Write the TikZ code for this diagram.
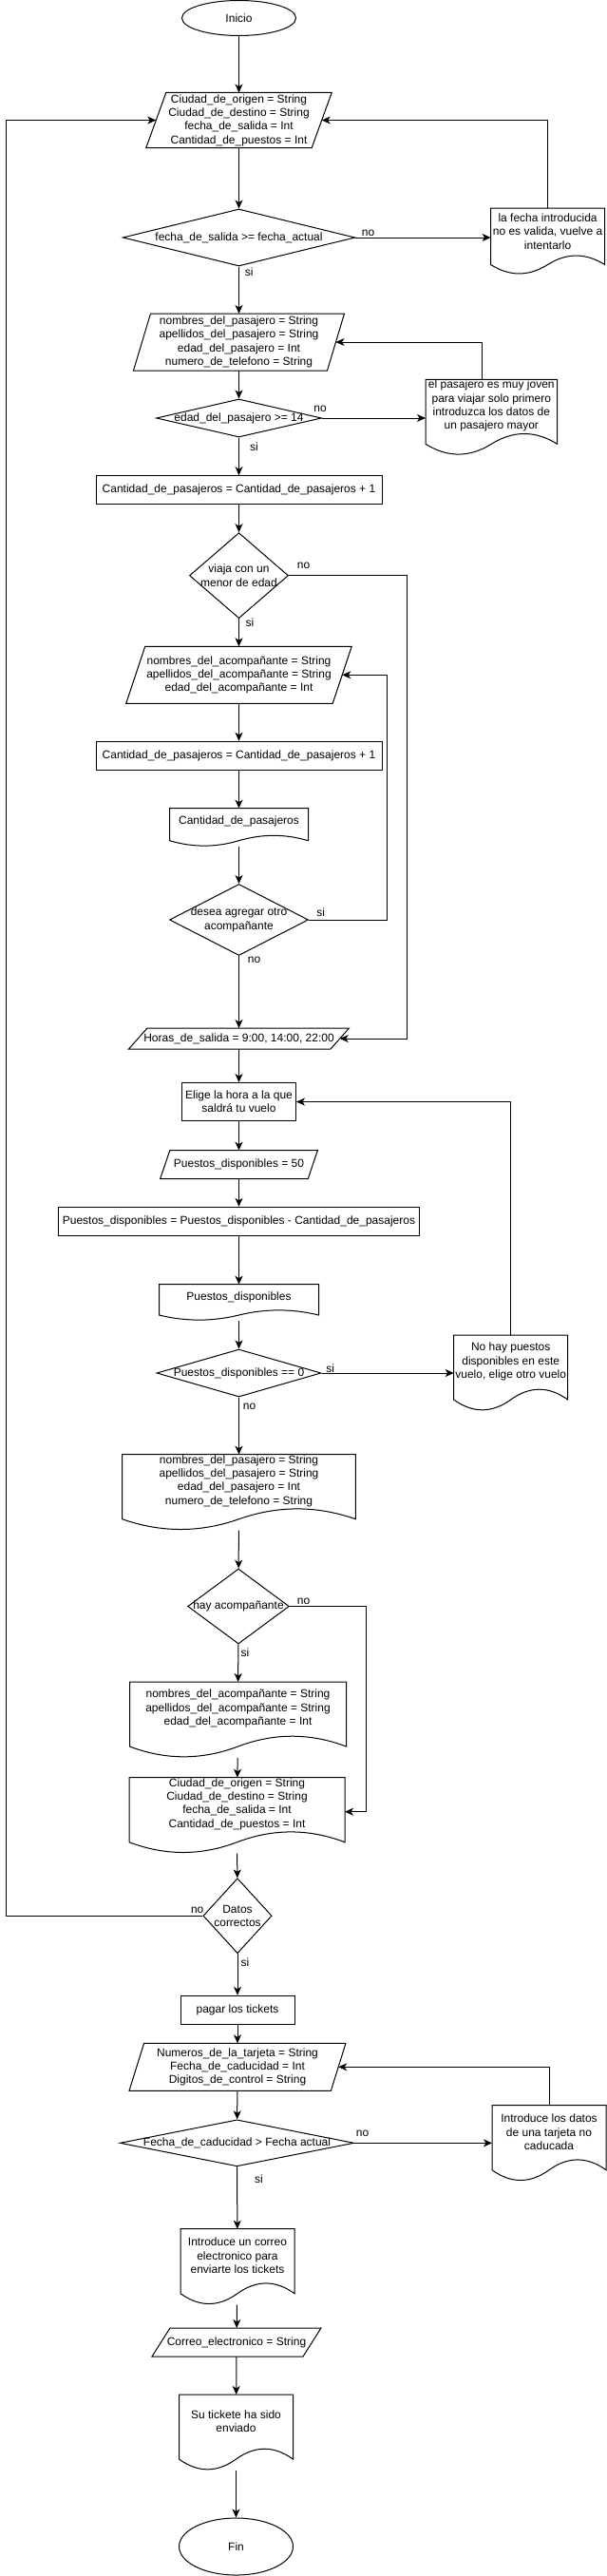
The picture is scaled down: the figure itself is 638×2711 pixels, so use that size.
\documentclass[tikz,border=0pt]{standalone}
\usepackage{fontspec}
\setmainfont{Liberation Sans}
\usetikzlibrary{shapes.geometric,arrows.meta,calc}

\tikzset{
  terminal/.style={ellipse, draw, line width=1pt, minimum width=120pt, inner sep=0pt},
  proceso/.style={rectangle, draw, line width=1pt, align=center, inner sep=1pt},
  entrada/.style={rectangle, align=center, inner sep=0pt, outer sep=0pt},
  decision/.style={diamond, draw, line width=1pt, inner sep=0pt},
  documento/.style={rectangle, inner sep=0pt, outer sep=0pt},
  texto/.style={align=center, inner sep=0pt},
  etiqueta/.style={inner sep=0pt},
  flecha/.style={line width=1pt, -{Stealth[length=9pt,width=8pt,inset=2.5pt]}}
}

\begin{document}
\begin{tikzpicture}[x=1pt, y=-1pt, font=\fontsize{12pt}{14.3pt}\selectfont]
  \fill[white] (0,0) rectangle (638,2711);
  \useasboundingbox (0,0) rectangle (638,2711);

  %inicio y datos del vuelo
  \node[terminal, minimum height=37pt] (ini) at (251.5,19) {Inicio};
  \node[entrada, minimum width=195.4pt, minimum height=58pt] (vuelo) at (251.5,126.5)
    {Ciudad\_de\_origen = String\\Ciudad\_de\_destino = String\\fecha\_de\_salida = Int\\Cantidad\_de\_puestos = Int};
  \node[decision, minimum width=244.5pt, minimum height=60pt,
    label={[texto]center:{fecha\_de\_salida >= fecha\_actual}}] (fecha) at (251.5,250) {};
  \node[documento, minimum width=120pt, minimum height=70pt,
    label={[texto, yshift=10.5pt]center:{la fecha introducida\\no es valida, vuelve a\\intentarlo}}] (malfecha) at (576.6,254) {};

  %datos del pasajero
  \node[entrada, minimum width=222pt, minimum height=60pt] (pasajero) at (251.5,360)
    {nombres\_del\_pasajero = String\\apellidos\_del\_pasajero = String\\edad\_del\_pasajero = Int\\numero\_de\_telefono = String};
  \node[decision, minimum width=174pt, minimum height=40pt,
    label={[texto]center:{edad\_del\_pasajero >= 14}}] (edad) at (251.5,440) {};
  \node[documento, minimum width=138.6pt, minimum height=80pt,
    label={[texto, yshift=12pt]center:{el pasajero es muy joven\\para viajar solo primero\\introduzca los datos de\\un pasajero mayor}}] (joven) at (517.3,439.3) {};
  \node[proceso, minimum width=301pt, minimum height=30pt] (suma1) at (251.5,515.7)
    {Cantidad\_de\_pasajeros = Cantidad\_de\_pasajeros + 1};
  \node[decision, minimum width=104pt, minimum height=90pt,
    label={[texto]center:{viaja con un\\menor de edad}}] (menor) at (251.5,605.7) {};

  %acompanantes
  \node[entrada, minimum width=237.5pt, minimum height=60pt] (acomp) at (251.5,710.3)
    {nombres\_del\_acompañante = String\\apellidos\_del\_acompañante = String\\edad\_del\_acompañante = Int};
  \node[proceso, minimum width=301pt, minimum height=30pt] (suma2) at (251.5,795.3)
    {Cantidad\_de\_pasajeros = Cantidad\_de\_pasajeros + 1};
  \node[documento, minimum width=146pt, minimum height=40pt,
    label={[texto, yshift=6pt]center:{Cantidad\_de\_pasajeros}}] (cantidad) at (251.5,870.7) {};
  \node[decision, minimum width=146pt, minimum height=75pt,
    label={[texto]center:{desea agregar otro\\acompañante}}] (otro) at (251.5,968) {};

  %horario y puestos
  \node[entrada, minimum width=232pt, minimum height=22pt] (horas) at (251.5,1093)
    {Horas\_de\_salida = 9:00, 14:00, 22:00};
  \node[proceso, minimum width=120pt, minimum height=40pt] (hora) at (251.5,1159.5)
    {Elige la hora a la que\\saldrá tu vuelo};
  \node[entrada, minimum width=165.8pt, minimum height=30pt] (puestos) at (251.5,1225.7)
    {Puestos\_disponibles = 50};
  \node[proceso, minimum width=380pt, minimum height=30pt] (resta) at (251.5,1285.3)
    {Puestos\_disponibles = Puestos\_disponibles - Cantidad\_de\_pasajeros};
  \node[documento, minimum width=168pt, minimum height=38pt,
    label={[texto, yshift=5.7pt]center:{Puestos\_disponibles}}] (disponibles) at (251.5,1370.7) {};
  \node[decision, minimum width=173pt, minimum height=50pt,
    label={[texto]center:{Puestos\_disponibles == 0}}] (lleno) at (251.5,1445) {};
  \node[documento, minimum width=120pt, minimum height=80pt,
    label={[texto, yshift=12pt]center:{No hay puestos\\disponibles en este\\vuelo, elige otro vuelo}}] (sinpuestos) at (537.7,1445) {};

  %resumen
  \node[documento, minimum width=245.7pt, minimum height=80pt,
    label={[texto, yshift=12pt]center:{nombres\_del\_pasajero = String\\apellidos\_del\_pasajero = String\\edad\_del\_pasajero = Int\\numero\_de\_telefono = String}}] (datospas) at (251.5,1570.7) {};
  \node[decision, minimum width=106.7pt, minimum height=79pt,
    label={[texto]center:{hay acompañante}}] (hay) at (251,1690.5) {};
  \node[documento, minimum width=228pt, minimum height=80pt,
    label={[texto, yshift=12pt]center:{nombres\_del\_acompañante = String\\apellidos\_del\_acompañante = String\\edad\_del\_acompañante = Int}}] (datosacomp) at (250.5,1810) {};
  \node[documento, minimum width=227pt, minimum height=80pt,
    label={[texto, yshift=12pt]center:{Ciudad\_de\_origen = String\\Ciudad\_de\_destino = String\\fecha\_de\_salida = Int\\Cantidad\_de\_puestos = Int}}] (resumen) at (249.5,1910.7) {};
  \node[decision, minimum width=72.2pt, minimum height=79pt,
    label={[texto]center:{Datos\\correctos}}] (correctos) at (250,2016.2) {};

  %pago
  \node[proceso, minimum width=120pt, minimum height=30pt] (pagar) at (250,2115.3) {pagar los tickets};
  \node[entrada, minimum width=228pt, minimum height=50pt] (tarjeta) at (250,2175.3)
    {Numeros\_de\_la\_tarjeta = String\\Fecha\_de\_caducidad = Int\\Digitos\_de\_control = String};
  \node[decision, minimum width=246.4pt, minimum height=49pt,
    label={[texto]center:{Fecha\_de\_caducidad > Fecha actual}}] (caducidad) at (249.5,2255.3) {};
  \node[documento, minimum width=120pt, minimum height=80pt,
    label={[texto, yshift=12pt]center:{Introduce los datos\\de una tarjeta no\\caducada}}] (caducada) at (578,2255.7) {};
  \node[documento, minimum width=120pt, minimum height=80pt,
    label={[texto, yshift=12pt]center:{Introduce un correo\\electronico para\\enviarte los tickets}}] (correo) at (250,2385.7) {};
  \node[entrada, minimum width=178pt, minimum height=30pt] (email) at (249,2465)
    {Correo\_electronico = String};
  \node[documento, minimum width=120pt, minimum height=80pt,
    label={[texto, yshift=12pt]center:{Su tickete ha sido\\enviado}}] (enviado) at (248.5,2560) {};
  \node[terminal, minimum height=60pt] (fin) at (248.5,2680) {Fin};

  %contorno de las entradas (paralelogramos)
  \foreach \nd/\s in {vuelo/21,pasajero/18,acomp/20,horas/19.5,puestos/10.2,tarjeta/15.6,email/19}
    \draw[line width=1pt] ([xshift=\s pt]\nd.north west) -- (\nd.north east)
      -- ([xshift=-\s pt]\nd.south east) -- (\nd.south west) -- cycle;

  %contorno de los documentos
  \foreach \nd in {malfecha,joven,cantidad,disponibles,sinpuestos,datospas,datosacomp,resumen,caducada,correo,enviado}
    \draw[line width=1pt] let \p1=(\nd.north west), \p2=(\nd.south east), \n1={\x2-\x1}, \n2={\y1-\y2} in
      (\p1) -- (\x2,\y1) -- (\x2,\y2+0.15*\n2)
      .. controls (\x2-\n1/6,\y2+0.33*\n2) and (\x1+2*\n1/3,\y2+0.33*\n2) .. (\x1+\n1/2,\y2+0.15*\n2)
      .. controls (\x1+\n1/3,\y2-0.03*\n2) and (\x1+\n1/6,\y2-0.03*\n2) .. (\x1,\y2+0.15*\n2) -- cycle;

  %etiquetas si / no
  \node[etiqueta] (si1) at (262.3,286.7) {si};
  \node[etiqueta] (no1) at (387.5,245) {no};
  \node[etiqueta] (no2) at (337,430) {no};
  \node[etiqueta] (si2) at (267.5,470) {si};
  \node[etiqueta] (no3) at (319.5,595.7) {no};
  \node[etiqueta] (si3) at (263,655) {si};
  \node[etiqueta] (si4) at (337.6,960) {si};
  \node[etiqueta] (no4) at (267.5,1010) {no};
  \node[etiqueta] (si5) at (347.8,1440) {si};
  \node[etiqueta] (no5) at (262.5,1480) {no};
  \node[etiqueta] (no6) at (319.5,1685) {no};
  \node[etiqueta] (si6) at (258,1739) {si};
  \node[etiqueta] (no7) at (207.7,2010) {no};
  \node[etiqueta] (si7) at (258,2065) {si};
  \node[etiqueta] (no8) at (381.5,2245) {no};
  \node[etiqueta] (si8) at (272.5,2292.7) {si};

  %flechas
  \draw[flecha] (ini) -- (vuelo);
  \draw[flecha] (vuelo) -- (fecha);
  \draw[flecha] (fecha.east) -- (fecha.east -| malfecha.west);
  \draw[flecha] (malfecha.north) |- ([xshift=-10.5pt]vuelo.east);
  \draw[flecha] (fecha) -- (pasajero);
  \draw[flecha] ([xshift=-10pt]joven.north) |- ([xshift=-9pt]pasajero.east);
  \draw[flecha] (pasajero) -- (edad);
  \draw[flecha] (edad.east) -- (edad.east -| joven.west);
  \draw[flecha] (edad) -- (suma1);
  \draw[flecha] (suma1) -- (menor);
  \draw[flecha] (menor.east) -- ++(124.2,0) |- ([xshift=-9.75pt]horas.east);
  \draw[flecha] (menor) -- (acomp);
  \draw[flecha] (acomp) -- (suma2);
  \draw[flecha] (suma2) -- (cantidad);
  \draw[flecha] (cantidad) -- (otro);
  \draw[flecha] (otro.east) -- ++(82.3,0) |- ([xshift=-10pt]acomp.east);
  \draw[flecha] (otro) -- (horas);
  \draw[flecha] (horas) -- (hora);
  \draw[flecha] (hora) -- (puestos);
  \draw[flecha] (puestos) -- (resta);
  \draw[flecha] (resta) -- (disponibles);
  \draw[flecha] (disponibles) -- (lleno);
  \draw[flecha] (lleno.east) -- (lleno.east -| sinpuestos.west);
  \draw[flecha] (sinpuestos.north) |- (hora.east);
  \draw[flecha] (lleno) -- (datospas);
  \draw[flecha] (datospas) -- (hay);
  \draw[flecha] (hay.east) -- ++(80.7,0) |- ([yshift=4pt]resumen.east);
  \draw[flecha] (hay) -- (datosacomp);
  \draw[flecha] (datosacomp) -- (resumen);
  \draw[flecha] (resumen) -- (correctos);
  \draw[flecha] (correctos.west) -- ++(-206.7,0) |- ([xshift=10.5pt]vuelo.west);
  \draw[flecha] (correctos) -- (pagar);
  \draw[flecha] (pagar) -- (tarjeta);
  \draw[flecha] (tarjeta) -- (caducidad);
  \draw[flecha] (caducidad.east) -- (caducidad.east -| caducada.west);
  \draw[flecha] (caducada.north) |- ([xshift=-7.8pt]tarjeta.east);
  \draw[flecha] (caducidad) -- (correo);
  \draw[flecha] (correo) -- (email);
  \draw[flecha] (email) -- (enviado);
  \draw[flecha] (enviado) -- (fin);
\end{tikzpicture}
\end{document}
